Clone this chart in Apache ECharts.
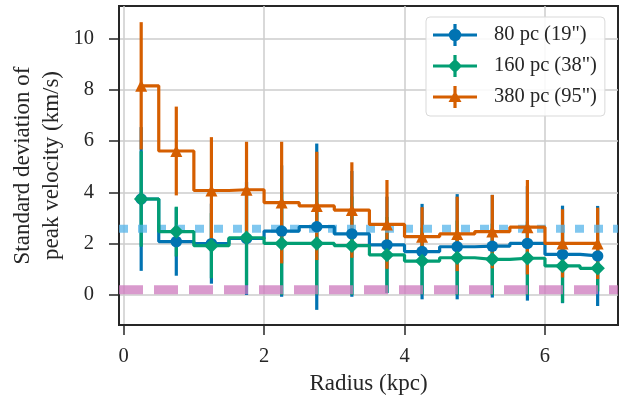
<!DOCTYPE html>
<html><head><meta charset="utf-8">
<script src="https://cdn.jsdelivr.net/npm/echarts@6/dist/echarts.min.js"></script>
<style>html,body{margin:0;padding:0;background:#fff}#c{width:628px;height:405px}</style>
</head><body><div id="c"></div>
<script>
// ---- data ----
const radius = [0.25,0.75,1.25,1.75,2.25,2.75,3.25,3.75,4.25,4.75,5.25,5.75,6.25,6.75];
const sd80  = [3.74,2.08,2.00,2.20,2.49,2.66,2.38,1.95,1.69,1.88,1.90,2.01,1.58,1.52];
const err80 = [2.80,1.33,1.56,2.20,2.56,3.24,2.45,1.88,1.86,2.05,2.00,2.23,1.90,1.95];
const sd160  = [3.74,2.47,1.92,2.23,2.01,2.01,1.92,1.56,1.32,1.45,1.39,1.43,1.13,1.04];
const err160 = [1.86,0.97,1.27,1.84,2.01,2.00,1.92,1.48,1.30,1.45,1.39,1.43,1.43,0.90];
const sd380  = [8.15,5.61,4.07,4.10,3.60,3.47,3.31,2.75,2.27,2.38,2.47,2.64,2.01,2.01];
const err380 = [2.48,1.73,2.08,1.87,2.37,2.11,1.86,1.73,1.15,1.45,1.43,1.84,1.33,1.39];
const refBlueLevel = 2.58;
const refPinkLevel = 0.20;
const seriesNames = ['80 pc (19")', '160 pc (38")', '380 pc (95")'];
const xTicks = [0,2,4,6];
const yTicks = [0,2,4,6,8,10];
const xRange = [-0.066, 7.04];
const yRange = [-1.17, 11.26];

const colors = ['#0173b2', '#029e73', '#d55e00'];
const FONT = '"Liberation Serif", "Times New Roman", serif';
const TXT = '#262626';

function errSeries(vals, errs, color){
  return {
    type: 'custom', z: 1, silent: true,
    data: radius.map((r,i)=>[r, vals[i]-errs[i], vals[i]+errs[i]]),
    encode: {x: 0, y: [1,2]},
    renderItem(params, api){
      const a = api.coord([api.value(0), api.value(1)]);
      const b = api.coord([api.value(0), api.value(2)]);
      return {type:'line', shape:{x1:a[0],y1:a[1],x2:b[0],y2:b[1]},
              style:{stroke:color, lineWidth:3.2}};
    }
  };
}
function lineSeries(name, vals, color, symbol, size){
  return {
    type: 'line', name, z: 2, step: 'middle',
    data: radius.map((r,i)=>[r, vals[i]]),
    symbol, symbolSize: size, showSymbol: true,
    lineStyle: {width: 3.2, color},
    itemStyle: {color, borderWidth: 0},
    emphasis: {disabled: true}
  };
}
function refSeries(level, color, width, dash){
  return {
    type: 'line', z: 1, silent: true, symbol: 'none',
    data: [[xRange[0], level], [xRange[1], level]],
    lineStyle: {color, width, type: dash, cap: 'butt'}
  };
}
const base = 'M0,9.6H44V12.4H0Z M20.4,0H23.6V22H20.4Z M55.9,10.9H56V11H55.9Z ';
const icons = [
  'path://' + base + 'M15.8,11A6.2,6.2 0 1,1 28.2,11A6.2,6.2 0 1,1 15.8,11Z',
  'path://' + base + 'M22,3.8L29.2,11L22,18.2L14.8,11Z',
  'path://' + base + 'M22,4.5L28.5,16L15.5,16Z'
];

const chart = echarts.init(document.getElementById('c'), null, {renderer: 'canvas'});
chart.setOption({
  animation: false,
  backgroundColor: '#ffffff',
  grid: {left: 119, right: 10, top: 6, bottom: 80, show: true, containLabel: false,
         outerBoundsMode: 'none',
         borderColor: TXT, borderWidth: 2, backgroundColor: 'transparent'},
  xAxis: {
    type: 'value', min: xRange[0], max: xRange[1],
    name: 'Radius (kpc)', nameLocation: 'middle', nameGap: 47, nameMoveOverlap: false,
    nameTextStyle: {fontFamily: FONT, fontSize: 23, color: TXT},
    axisLine: {show: true, onZero: false, lineStyle: {color: TXT, width: 2}},
    axisTick: {show: true, length: 10, customValues: xTicks, lineStyle: {color: TXT, width: 1.5}},
    axisLabel: {customValues: xTicks, margin: 21, fontFamily: FONT, fontSize: 20.5, color: TXT},
    splitLine: {show: true, lineStyle: {color: '#cccccc', width: 1.5}}
  },
  yAxis: {
    type: 'value', min: yRange[0], max: yRange[1],
    name: 'Standard deviation of\npeak velocity (km/s)', nameLocation: 'middle', nameGap: 53,
    nameRotate: 90, nameMoveOverlap: false,
    nameTextStyle: {fontFamily: FONT, fontSize: 23, color: TXT, lineHeight: 29},
    axisLine: {show: true, onZero: false, lineStyle: {color: TXT, width: 2}},
    axisTick: {show: true, length: 10, customValues: yTicks, lineStyle: {color: TXT, width: 1.5}},
    axisLabel: {customValues: yTicks, margin: 25, fontFamily: FONT, fontSize: 20.5, color: TXT},
    splitLine: {show: true, lineStyle: {color: '#cccccc', width: 1.5}}
  },
  legend: {
    left: 426, top: 17, orient: 'vertical',
    padding: [7, 8, 8, 7], itemGap: 9, itemWidth: 56, itemHeight: 22,
    backgroundColor: 'rgba(255,255,255,0.85)', borderColor: '#d9d9d9', borderWidth: 1, borderRadius: 4,
    textStyle: {fontFamily: FONT, fontSize: 20.5, color: TXT},
    data: seriesNames.map((n,i)=>({name: n, icon: icons[i]}))
  },
  series: [
    errSeries(sd80, err80, colors[0]),
    errSeries(sd160, err160, colors[1]),
    errSeries(sd380, err380, colors[2]),
    refSeries(refBlueLevel, 'rgba(86,180,233,0.75)', 8, [9, 10]),
    refSeries(refPinkLevel, 'rgba(204,120,188,0.75)', 9, [24, 11]),
    lineSeries(seriesNames[0], sd80, colors[0], 'circle', 11.5),
    lineSeries(seriesNames[1], sd160, colors[1], 'diamond', 14.5),
    lineSeries(seriesNames[2], sd380, colors[2], 'triangle', 12)
  ]
});
</script></body></html>
